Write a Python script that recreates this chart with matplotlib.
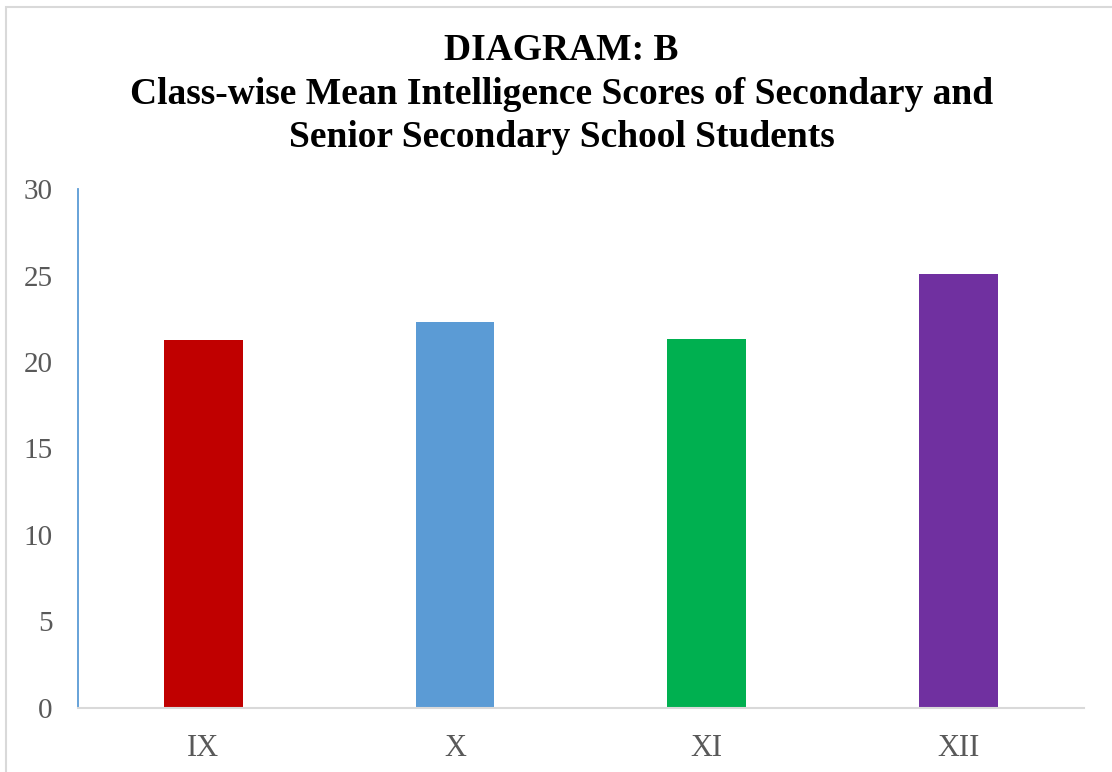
import matplotlib
matplotlib.use("Agg")
import matplotlib.pyplot as plt
from matplotlib.patches import Rectangle

classes = ["IX", "X", "XI", "XII"]
mean_scores = [21.28, 22.32, 21.34, 25.10]
bar_colors = ["#C00000", "#5B9BD5", "#00B050", "#7030A0"]
y_ticks = [0, 5, 10, 15, 20, 25, 30]

plt.rcParams["font.family"] = ["Liberation Serif", "DejaVu Serif"]

fig = plt.figure(figsize=(11.12, 7.72), dpi=100)
ax = fig.add_axes([77.5 / 1112, 64.3 / 772, (1084 - 77.5) / 1112, (707.7 - 189.3) / 772])

x = range(len(classes))
ax.bar(x, mean_scores, width=0.313, color=bar_colors, zorder=2)

ax.set_xlim(-0.5, len(classes) - 0.5)
ax.set_ylim(0, 30)
ax.set_yticks(y_ticks)
ax.set_xticks(list(x))
ax.set_xticklabels(classes)
ax.tick_params(axis="y", length=0, pad=18, labelsize=21, labelcolor="#595959")
ax.tick_params(axis="x", length=0, pad=19, labelsize=22, labelcolor="#595959")

for side in ("top", "right"):
    ax.spines[side].set_visible(False)
ax.spines["left"].set_color("#5B9BD5")
ax.spines["left"].set_linewidth(1.3)
ax.spines["bottom"].set_color("#D9D9D9")
ax.spines["bottom"].set_linewidth(1.5)

fig.text(0.505, 1 - 94 / 772, "DIAGRAM: B\nClass-wise Mean Intelligence Scores of Secondary and\nSenior Secondary School Students",
         ha="center", va="center", fontsize=27, fontweight="bold", linespacing=1.32, color="black")

# light frame around the chart area
fig.patches.append(Rectangle((6 / 1112, -0.05), 1.2, 1 - 7 / 772 + 0.05, transform=fig.transFigure,
                             fill=False, edgecolor="#D9D9D9", linewidth=1.5))

fig.savefig("out.png", dpi=100)
